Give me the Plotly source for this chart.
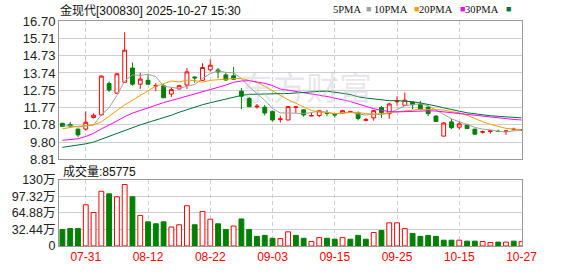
import plotly.graph_objects as go

# ---------------- data ----------------
dates = ["07-28", "07-29", "07-30", "07-31", "08-01", "08-04", "08-05", "08-06", "08-07", "08-08",
         "08-11", "08-12", "08-13", "08-14", "08-15", "08-18", "08-19", "08-20", "08-21", "08-22",
         "08-25", "08-26", "08-27", "08-28", "08-29", "09-01", "09-02", "09-03", "09-04", "09-05",
         "09-08", "09-09", "09-10", "09-11", "09-12", "09-15", "09-16", "09-17", "09-18", "09-19",
         "09-22", "09-23", "09-24", "09-25", "09-26", "09-29", "09-30", "10-09", "10-10", "10-13",
         "10-14", "10-15", "10-16", "10-17", "10-20", "10-21", "10-22", "10-23", "10-24", "10-27"]

opens = [10.87, 10.80, 10.54, 10.54, 11.20, 11.35, 13.14, 12.59, 13.21, 14.02,
         13.10, 13.32, 12.99, 13.01, 12.54, 12.83, 13.05, 13.51, 13.32, 13.92,
         13.91, 13.63, 13.58, 12.70, 12.28, 11.80, 11.79, 11.55, 11.08, 11.06,
         11.77, 11.64, 11.29, 11.31, 11.46, 11.37, 11.44, 11.50, 11.46, 11.04,
         11.18, 11.77, 11.42, 12.10, 11.90, 12.08, 11.95, 11.79, 11.28, 10.14,
         10.95, 10.65, 10.78, 10.54, 10.36, 10.41, 10.42, 10.40, 10.51, 10.49]
highs = [10.89, 10.95, 10.56, 11.55, 11.44, 13.60, 13.25, 13.74, 16.06, 14.33,
         13.74, 13.65, 13.16, 13.10, 12.92, 13.06, 14.02, 13.53, 14.29, 14.51,
         14.02, 13.74, 14.08, 12.88, 12.37, 11.97, 11.92, 11.60, 11.31, 11.85,
         11.86, 11.66, 11.49, 11.64, 11.64, 11.46, 11.64, 11.59, 11.55, 11.17,
         11.64, 11.86, 12.04, 12.42, 12.62, 12.10, 12.15, 11.86, 11.33, 10.95,
         11.13, 10.95, 10.84, 10.56, 10.45, 10.45, 10.51, 10.47, 10.62, 10.54]
lows = [10.67, 10.68, 10.08, 10.45, 11.15, 11.30, 12.66, 12.55, 13.18, 13.01,
        12.83, 13.08, 12.70, 12.30, 12.37, 12.80, 12.83, 13.18, 13.30, 13.83,
        13.43, 13.29, 13.36, 11.68, 11.79, 11.71, 11.31, 10.98, 10.91, 11.04,
        11.46, 11.24, 11.28, 11.22, 11.28, 11.19, 11.42, 11.46, 11.04, 10.98,
        11.02, 11.18, 11.13, 11.88, 11.86, 11.68, 11.66, 11.28, 10.97, 10.13,
        10.54, 10.53, 10.53, 10.24, 10.28, 10.28, 10.38, 10.22, 10.45, 10.45]
closes = [10.69, 10.71, 10.21, 10.93, 11.33, 13.56, 12.77, 13.69, 15.04, 13.10,
          13.39, 13.10, 13.03, 12.33, 12.79, 13.01, 13.80, 13.46, 14.05, 14.18,
          13.80, 13.34, 13.38, 12.41, 11.82, 11.84, 11.46, 11.06, 11.12, 11.82,
          11.80, 11.35, 11.31, 11.59, 11.44, 11.35, 11.59, 11.53, 11.15, 11.08,
          11.59, 11.48, 11.97, 12.13, 12.19, 11.93, 11.68, 11.42, 10.98, 10.89,
          10.62, 10.84, 10.58, 10.25, 10.39, 10.44, 10.40, 10.43, 10.53, 10.51]

ma5 = [10.72, 10.73, 10.66, 10.70, 10.77, 11.35, 11.76, 12.46, 13.28, 13.63,
       13.60, 13.66, 13.53, 12.99, 12.93, 12.85, 12.99, 13.08, 13.43, 13.70,
       13.86, 13.77, 13.75, 13.42, 12.95, 12.56, 12.18, 11.72, 11.46, 11.46,
       11.45, 11.43, 11.48, 11.57, 11.50, 11.41, 11.46, 11.50, 11.41, 11.34,
       11.39, 11.37, 11.45, 11.65, 11.87, 11.94, 11.98, 11.87, 11.64, 11.38,
       11.12, 10.95, 10.78, 10.64, 10.54, 10.50, 10.41, 10.38, 10.44, 10.46]
ma10 = [10.56, 10.64, 10.70, 10.74, 10.78, 10.95, 11.25, 11.60, 11.92, 12.20,
        12.47, 12.71, 12.99, 13.13, 13.28, 13.23, 13.33, 13.31, 13.21, 13.32,
        13.36, 13.38, 13.42, 13.42, 13.33, 13.21, 12.98, 12.73, 12.44, 12.21,
        12.01, 11.81, 11.60, 11.52, 11.48, 11.43, 11.44, 11.49, 11.49, 11.42,
        11.40, 11.41, 11.48, 11.53, 11.61, 11.66, 11.67, 11.66, 11.65, 11.63,
        11.53, 11.47, 11.33, 11.14, 10.96, 10.81, 10.68, 10.58, 10.54, 10.50]
ma20 = [9.90, 9.95, 9.99, 10.12, 10.30, 10.55, 10.76, 11.00, 11.25, 11.45,
        11.60, 11.76, 11.92, 12.05, 12.17, 12.29, 12.42, 12.55, 12.66, 12.76,
        12.92, 13.05, 13.21, 13.28, 13.30, 13.22, 13.15, 13.02, 12.82, 12.76,
        12.68, 12.59, 12.51, 12.47, 12.40, 12.32, 12.21, 12.11, 11.97, 11.81,
        11.70, 11.61, 11.54, 11.52, 11.54, 11.55, 11.56, 11.58, 11.57, 11.52,
        11.46, 11.44, 11.40, 11.33, 11.28, 11.24, 11.18, 11.12, 11.09, 11.06]
ma30 = [9.50, 9.56, 9.62, 9.70, 9.80, 9.97, 10.12, 10.30, 10.48, 10.62,
        10.78, 10.92, 11.05, 11.20, 11.33, 11.50, 11.65, 11.78, 11.93, 12.04,
        12.15, 12.28, 12.38, 12.46, 12.52, 12.54, 12.55, 12.55, 12.56, 12.57,
        12.61, 12.63, 12.67, 12.69, 12.70, 12.62, 12.58, 12.51, 12.38, 12.31,
        12.25, 12.20, 12.16, 12.16, 12.14, 12.10, 12.03, 11.96, 11.86, 11.75,
        11.64, 11.56, 11.47, 11.40, 11.35, 11.30, 11.27, 11.24, 11.23, 11.18]

# volume in lots (手)
volumes = [322000, 341000, 341000, 808000, 656000, 1073000, 1022000, 965000, 1205000, 965000,
           599000, 473000, 435000, 473000, 372000, 416000, 789000, 416000, 675000, 524000,
           435000, 322000, 391000, 530000, 322000, 189000, 208000, 151000, 145000, 278000,
           208000, 151000, 88000, 164000, 151000, 133000, 164000, 133000, 208000, 133000,
           265000, 303000, 454000, 454000, 341000, 246000, 189000, 208000, 189000, 114000,
           114000, 114000, 95000, 95000, 88000, 69000, 76000, 76000, 95000, 85775]
# 1 = up day (red), 0 = down day (green)
vol_up = [0, 0, 0, 1, 1, 1, 0, 1, 1, 0,
          1, 0, 0, 0, 1, 1, 1, 0, 1, 1,
          0, 0, 1, 0, 0, 0, 0, 0, 1, 1,
          0, 0, 1, 1, 0, 0, 1, 0, 0, 0,
          1, 0, 1, 1, 1, 0, 0, 0, 0, 0,
          0, 1, 0, 0, 1, 1, 0, 1, 0, 1]

price_ticks = [8.81, 9.80, 10.78, 11.77, 12.75, 13.74, 14.73, 15.71, 16.70]
vol_ticks = [0, 324400, 648800, 973200, 1300000]
vol_tick_labels = ["0", "32.44万", "64.88万", "97.32万", "130万"]
date_ticks = ["07-31", "08-12", "08-22", "09-03", "09-15", "09-25", "10-15", "10-27"]

title_text = "金现代[300830] 2025-10-27 15:30"
ma_names = ["5PMA", "10PMA", "20PMA", "30PMA"]

# ---------------- style ----------------
W, H = 578, 276
ML, MR, MT, MB = 56, 56, 21, 21
PW, PH = W - ML - MR, H - MT - MB
RED = "#ff0000"
GREEN = "#008000"
MA_COLORS = ["#a0a0a0", "#f0a000", "#ff00ff", "#007236"]
GRID = "#cfcfcf"
BORDER = "#9a9a9a"
FONT = "Liberation Sans, Arial, Noto Sans CJK SC, sans-serif"


def px(x):
    return (x - ML) / PW


def py(y):
    return (H - MB - y) / PH


fig = go.Figure()

fig.add_trace(go.Candlestick(
    x=dates, open=opens, high=highs, low=lows, close=closes,
    increasing=dict(line=dict(color=RED, width=1), fillcolor="#ffffff"),
    decreasing=dict(line=dict(color=GREEN, width=1), fillcolor=GREEN),
    whiskerwidth=0, xaxis="x", yaxis="y", showlegend=False, hoverinfo="skip"))

for name, vals, col in zip(ma_names, [ma5, ma10, ma20, ma30], MA_COLORS):
    fig.add_trace(go.Scatter(x=dates, y=vals, mode="lines", name=name,
                             line=dict(color=col, width=1), xaxis="x", yaxis="y",
                             showlegend=False, hoverinfo="skip"))

fig.add_trace(go.Bar(
    x=dates, y=volumes, xaxis="x2", yaxis="y2", showlegend=False, hoverinfo="skip",
    marker=dict(color=["#ffffff" if u else GREEN for u in vol_up],
                line=dict(color=[RED if u else GREEN for u in vol_up], width=1))))

price_top = 21
price_bot = 165
vol_top = 186
axis_common = dict(type="category", range=[-0.44, len(dates) - 0.94],
                   tickvals=date_ticks, showgrid=True, gridcolor=GRID, gridwidth=1,
                   griddash="4px,3px", showline=True, mirror=True, linecolor=BORDER,
                   linewidth=1, ticks="", zeroline=False, fixedrange=True)

fig.update_layout(
    width=W, height=H, margin=dict(l=ML, r=MR, t=MT, b=MB),
    paper_bgcolor="white", plot_bgcolor="white",
    bargap=0.38, boxgap=0.3,
    font=dict(family=FONT, size=12, color="#222"),
    xaxis=dict(**axis_common, anchor="y", showticklabels=False,
               rangeslider=dict(visible=False)),
    xaxis2=dict(**axis_common, anchor="y2", matches="x", showticklabels=True,
                tickfont=dict(color=RED, size=12, family=FONT)),
    yaxis=dict(domain=[py(price_bot), py(price_top)], range=[price_ticks[0], price_ticks[-1]],
               tickvals=price_ticks, tickformat=".2f", showgrid=True, gridcolor=GRID,
               showline=True, mirror=True, linecolor=BORDER, ticks="", zeroline=False,
               tickfont=dict(size=13, color="#222", family=FONT), fixedrange=True),
    yaxis2=dict(domain=[0, py(vol_top)], range=[0, vol_ticks[-1]],
                tickvals=vol_ticks, ticktext=vol_tick_labels, showgrid=True, gridcolor=GRID,
                showline=True, mirror=True, linecolor=BORDER, ticks="", zeroline=False,
                tickfont=dict(size=12.5, color="#222", family=FONT), fixedrange=True),
)

ann = []
ann.append(dict(x=px(55), y=py(10), xref="paper", yref="paper", xanchor="left", yanchor="middle",
                text=title_text, showarrow=False, font=dict(size=12, color="#111", family=FONT)))
leg_text_end = [362, 409, 455, 501]
leg_box_x = [368, 416, 462, 508]
for name, col, tx, bx in zip(ma_names, MA_COLORS, leg_text_end, leg_box_x):
    ann.append(dict(x=px(tx), y=py(9), xref="paper", yref="paper", xanchor="right",
                    yanchor="middle", text=name, showarrow=False,
                    font=dict(size=10.5, color="#111", family="Liberation Serif, serif")))
    ann.append(dict(x=px(bx), y=py(9), xref="paper", yref="paper", xanchor="center",
                    yanchor="middle", text="■", showarrow=False,
                    font=dict(size=9, color=col, family=FONT)))
ann.append(dict(x=px(58), y=py(177), xref="paper", yref="paper", xanchor="left",
                yanchor="middle", text="成交量:%d" % volumes[-1], showarrow=False,
                font=dict(size=12, color="#111", family=FONT)))
ann.append(dict(x=px(305), y=py(89), xref="paper", yref="paper", xanchor="center",
                yanchor="middle", text="东方财富", showarrow=False,
                font=dict(size=33, color="rgba(190,190,205,0.38)",
                          family="Noto Sans CJK SC, sans-serif")))
fig.update_layout(annotations=ann)

fig.write_html("out.html")
